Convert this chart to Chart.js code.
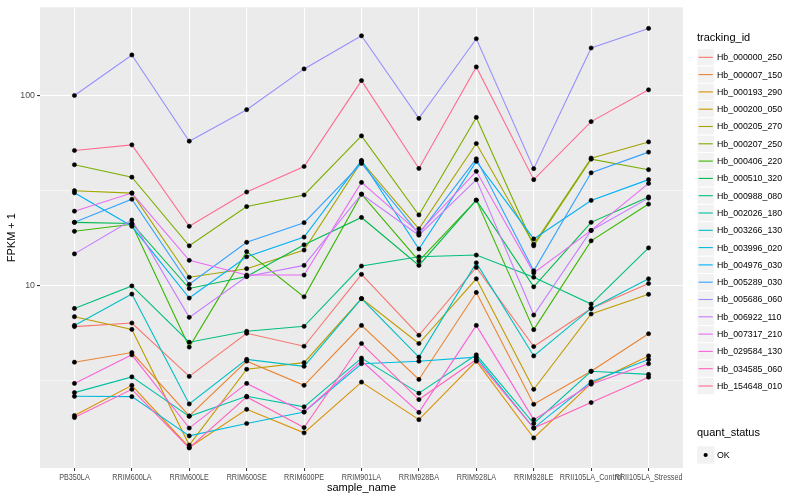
<!DOCTYPE html>
<html><head><meta charset="utf-8">
<script src="https://cdn.jsdelivr.net/npm/chart.js@4.4.1/dist/chart.umd.min.js"></script>
<style>html,body{margin:0;padding:0;background:#fff;}#wrap{width:800px;height:500px;}</style>
</head><body><div id="wrap"><canvas id="c" width="800" height="500"></canvas></div>
<script>
const categories = ["PB350LA","RRIM600LA","RRIM600LE","RRIM600SE","RRIM600PE","RRIM901LA","RRIM928BA","RRIM928LA","RRIM928LE","RRII105LA_Control","RRII105LA_Stressed"];
const trackingIds = ["Hb_000000_250","Hb_000007_150","Hb_000193_290","Hb_000200_050","Hb_000205_270","Hb_000207_250","Hb_000406_220","Hb_000510_320","Hb_000988_080","Hb_002026_180","Hb_003266_130","Hb_003996_020","Hb_004976_030","Hb_005289_030","Hb_005686_060","Hb_006922_110","Hb_007317_210","Hb_029584_130","Hb_034585_060","Hb_154648_010"];
const seriesColors = ["#F8766D","#EA8331","#D89000","#C09B00","#A3A500","#7CAE00","#39B600","#00BB4E","#00BF7D","#00C1A3","#00BFC4","#00BAE0","#00B0F6","#35A2FF","#9590FF","#C77CFF","#E76BF3","#FA62DB","#FF62BC","#FF6C91"];

// FPKM + 1 per sample (same order as categories)
const hb_000000_250 = [6.05, 6.32, 3.31, 5.58, 4.77, 11.4, 5.45, 12.4, 4.75, 7.54, 10.2];
const hb_000007_150 = [3.93, 4.42, 2.05, 3.98, 2.97, 6.14, 3.19, 9.15, 2.36, 3.52, 5.55];
const hb_000193_290 = [2.06, 2.97, 1.40, 2.22, 1.67, 3.09, 1.96, 3.98, 1.57, 3.04, 4.24];
const hb_000200_050 = [6.82, 5.85, 1.44, 3.61, 3.91, 8.5, 4.93, 10.8, 2.83, 7.05, 8.95];
const hb_000205_270 = [31.4, 30.5, 11.0, 12.2, 15.3, 44.8, 19.8, 55.6, 16.4, 46.6, 56.7];
const hb_000207_250 = [43.0, 37.0, 16.1, 25.9, 29.8, 61.0, 23.4, 76.3, 16.1, 46.0, 40.5];
const hb_000406_220 = [19.2, 20.9, 4.72, 15.0, 8.68, 30.1, 13.4, 28.0, 5.83, 17.1, 26.7];
const hb_000510_320 = [21.4, 21.1, 9.6, 11.1, 16.3, 22.7, 12.7, 28.0, 9.8, 21.4, 29.1];
const hb_000988_080 = [7.54, 9.9, 5.01, 5.72, 6.07, 12.6, 14.1, 14.4, 11.0, 7.95, 15.7];
const hb_002026_180 = [2.72, 3.29, 2.04, 2.60, 2.29, 4.13, 2.70, 4.30, 1.87, 3.52, 3.39];
const hb_003266_130 = [6.14, 8.97, 2.37, 4.07, 3.74, 8.5, 4.18, 13.1, 4.24, 7.54, 10.8];
const hb_003996_020 = [2.60, 2.59, 1.61, 1.87, 2.15, 3.86, 3.98, 4.18, 1.77, 3.10, 4.06];
const hb_004976_030 = [30.6, 20.4, 8.55, 14.1, 17.9, 45.3, 15.5, 44.8, 17.5, 27.9, 35.9];
const hb_005289_030 = [21.4, 28.3, 10.1, 16.8, 21.3, 43.7, 18.6, 46.2, 11.9, 39.0, 50.1];
const hb_005686_060 = [99.5, 162.6, 57.2, 83.8, 137.3, 205.1, 75.4, 197.9, 41.0, 176.9, 224.3];
const hb_006922_110 = [14.6, 22.0, 6.77, 11.1, 12.7, 30.1, 18.3, 35.9, 6.96, 19.4, 28.7];
const hb_007317_210 = [24.5, 30.5, 13.5, 11.3, 11.3, 34.7, 18.9, 39.7, 11.6, 19.4, 34.3];
const hb_029584_130 = [3.04, 4.30, 1.77, 3.04, 2.15, 4.0, 2.14, 6.14, 1.96, 3.01, 3.86];
const hb_034585_060 = [2.01, 2.83, 1.39, 2.58, 1.78, 4.93, 2.50, 4.06, 1.77, 2.41, 3.28];
const hb_154648_010 = [51.1, 54.7, 20.4, 30.9, 42.1, 119.2, 41.1, 140.6, 35.9, 72.5, 106.6];

const seriesValues = [hb_000000_250,hb_000007_150,hb_000193_290,hb_000200_050,hb_000205_270,hb_000207_250,hb_000406_220,hb_000510_320,hb_000988_080,hb_002026_180,hb_003266_130,hb_003996_020,hb_004976_030,hb_005289_030,hb_005686_060,hb_006922_110,hb_007317_210,hb_029584_130,hb_034585_060,hb_154648_010];

const yGridValues = [3.1623, 10, 31.623, 100];
const yTickLabels = ["10", "100"];
const quantStatus = ["OK"];

const FONT = '"Liberation Sans", Arial, Helvetica, sans-serif';
Chart.defaults.font.family = FONT;

const datasets = seriesValues.map((vals, i) => ({
  label: trackingIds[i],
  data: vals.map((v, k) => ({x: k, y: v})),
  borderColor: seriesColors[i],
  backgroundColor: seriesColors[i],
  borderWidth: 1.1,
  pointRadius: 0,
  tension: 0,
  order: 100 - i
}));
const allPoints = [];
seriesValues.forEach(vals => vals.forEach((v, k) => allPoints.push({x: k, y: v})));
datasets.push({
  label: 'points', data: allPoints, showLine: false,
  pointRadius: 2.1, pointStyle: 'circle', pointBackgroundColor: '#000', pointBorderColor: '#000', pointBorderWidth: 0.6,
  order: 0
});

const panelBg = {
  id: 'panelBg',
  beforeDraw(chart) {
    const {ctx, chartArea: a} = chart;
    ctx.save();
    ctx.fillStyle = '#EBEBEB';
    ctx.fillRect(a.left, a.top, a.right - a.left, a.bottom - a.top);
    ctx.restore();
  }
};

// x tick labels drawn slightly condensed, like the reference's narrow axis font
const xLabelPlugin = {
  id: 'xLabels',
  afterDraw(chart) {
    const ctx = chart.ctx, xs = chart.scales.x, a = chart.chartArea;
    ctx.save();
    ctx.fillStyle = '#4D4D4D';
    ctx.font = '8.8px ' + FONT;
    ctx.textAlign = 'center';
    ctx.textBaseline = 'top';
    categories.forEach((c, i) => {
      const px = xs.getPixelForValue(i);
      ctx.save();
      ctx.translate(px, a.bottom + 5);
      ctx.scale(0.82, 1);
      ctx.fillText(c, 0, 0);
      ctx.restore();
    });
    ctx.restore();
  }
};

const legendPlugin = {
  id: 'ggLegend',
  afterDraw(chart) {
    const ctx = chart.ctx;
    ctx.save();
    const x0 = 697, key = 17.3, top = 57.3;
    ctx.fillStyle = '#000';
    ctx.textBaseline = 'middle';
    ctx.textAlign = 'left';
    ctx.font = '11px ' + FONT;
    ctx.fillText('tracking_id', x0, 38);
    ctx.font = '8.8px ' + FONT;
    trackingIds.forEach((id, i) => {
      const cy = top + i * key;
      ctx.fillStyle = '#F2F2F2';
      ctx.fillRect(x0, cy - key / 2, key, key);
      ctx.strokeStyle = '#FFFFFF';
      ctx.lineWidth = 1;
      ctx.strokeRect(x0, cy - key / 2, key, key);
      ctx.strokeStyle = seriesColors[i];
      ctx.lineWidth = 1.1;
      ctx.beginPath();
      ctx.moveTo(x0 + 1.5, cy);
      ctx.lineTo(x0 + key - 1.5, cy);
      ctx.stroke();
      ctx.fillStyle = '#000';
      ctx.fillText(id, x0 + 20, cy + 0.5);
    });
    ctx.font = '11px ' + FONT;
    ctx.fillText('quant_status', x0, 433);
    const cy2 = 455;
    ctx.fillStyle = '#F2F2F2';
    ctx.fillRect(x0, cy2 - key / 2, key, key);
    ctx.fillStyle = '#000';
    ctx.beginPath();
    ctx.arc(x0 + key / 2, cy2, 2.1, 0, Math.PI * 2);
    ctx.fill();
    ctx.font = '8.8px ' + FONT;
    ctx.fillText(quantStatus[0], x0 + 20, cy2 + 0.5);
    ctx.restore();
  }
};

new Chart(document.getElementById('c'), {
  type: 'line',
  data: {datasets},
  plugins: [panelBg, xLabelPlugin, legendPlugin],
  options: {
    responsive: false,
    devicePixelRatio: 1,
    animation: false,
    events: [],
    layout: {padding: {left: 0, right: 117, top: 3.5, bottom: 0}},
    plugins: {legend: {display: false}, tooltip: {enabled: false}},
    scales: {
      x: {
        type: 'linear',
        min: -0.6, max: 10.6,
        afterBuildTicks(scale) { scale.ticks = categories.map((c, i) => ({value: i})); },
        afterFit(scale) { scale.height = 32; },
        ticks: {display: false},
        grid: {color: '#FFFFFF', lineWidth: 1.1, tickLength: 3, tickColor: '#333333', tickWidth: 1},
        border: {display: false},
        title: {display: true, text: 'sample_name', color: '#000', font: {size: 11}, padding: {top: 0, bottom: 5}}
      },
      y: {
        type: 'logarithmic',
        min: 1.091, max: 289.7,
        afterBuildTicks(scale) { scale.ticks = yGridValues.map(v => ({value: v})); },
        afterFit(scale) { scale.width = 40; },
        ticks: {
          autoSkip: false, padding: 2, color: '#4D4D4D', font: {size: 8.8},
          callback: (v) => { const s = String(Math.round(v)); return yTickLabels.includes(s) && Math.abs(v - Math.round(v)) < 1e-6 ? s : ''; }
        },
        grid: {
          color: '#FFFFFF',
          lineWidth: (c) => (c.tick && (c.tick.value === 10 || c.tick.value === 100)) ? 1.1 : 0.55,
          tickLength: 3,
          tickColor: (c) => (c.tick && (c.tick.value === 10 || c.tick.value === 100)) ? '#333333' : 'rgba(0,0,0,0)'
        },
        border: {display: false},
        title: {display: true, text: 'FPKM + 1', color: '#000', font: {size: 11}, padding: {top: 5, bottom: 0}}
      }
    }
  }
});
</script></body></html>
